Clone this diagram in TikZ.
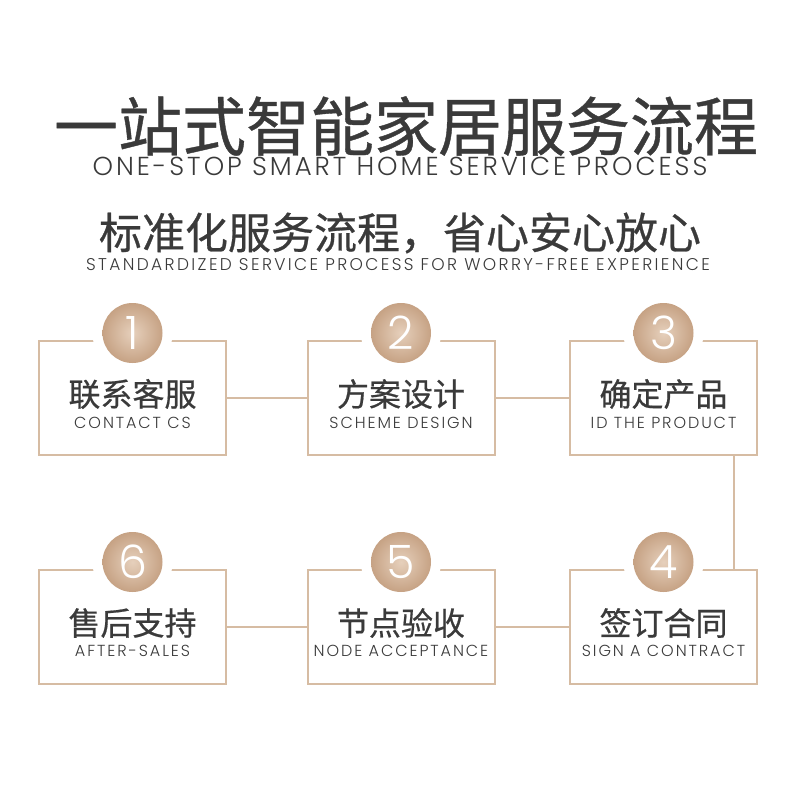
\documentclass[tikz,border=0pt]{standalone}
\usepackage{fontspec}
\usepackage{xcolor}
\usetikzlibrary{positioning}
\setmainfont{Poppins}
\newfontfamily\cjk[FakeBold=0.6]{Noto Sans CJK SC}
\newfontfamily\thin{Poppins Light}

\definecolor{goldline}{RGB}{214,188,163}
\definecolor{goldlight}{RGB}{230,208,188}
\definecolor{golddark}{RGB}{198,162,132}
\definecolor{ink}{RGB}{58,58,58}

\begin{document}
\begin{tikzpicture}[x=1pt,y=1pt,yscale=-1,
  stepbox/.style={draw=goldline,line width=2pt,minimum width=187pt,minimum height=114pt,inner sep=0pt},
  gap/.style={circle,fill=white,minimum size=80pt,inner sep=0pt},
  numball/.style={circle,inner color=goldlight,outer color=golddark,minimum size=60pt,inner sep=0pt,text=white,font=\thin\fontsize{46}{46}\selectfont},
  cn/.style={text=ink,inner sep=0pt,font=\cjk\fontsize{32}{32}\selectfont},
  en/.style={text=ink,inner sep=0pt,font=\thin\fontsize{16}{16}\selectfont\addfontfeature{LetterSpace=12}},
  link/.style={draw=goldline,line width=2pt}]

\useasboundingbox (0,0) rectangle (800,800);

% Text Node
\node (title) at (406,126) [text=ink,inner sep=0pt,font=\cjk\fontsize{64}{64}\selectfont] {一站式智能家居服务流程};
\node (titleen) at (400,166) [text=ink,inner sep=0pt,font=\thin\fontsize{26}{26}\selectfont\addfontfeature{LetterSpace=11.5}] {ONE-STOP SMART HOME SERVICE PROCESS};
\node (head) at (400,233) [text=ink,inner sep=0pt,font=\cjk\fontsize{43}{43}\selectfont] {标准化服务流程，省心安心放心};
\node (headen) at (398,265) [text=ink,inner sep=0pt,font=\thin\fontsize{17}{17}\selectfont\addfontfeature{LetterSpace=14}] {STANDARDIZED SERVICE PROCESS FOR WORRY-FREE EXPERIENCE};

% boxes
\node (b1) at (132.5,398) [stepbox] {};
\node (b2) at (401,398) [stepbox] {};
\node (b3) at (663.5,398) [stepbox] {};
\node (b6) at (132.5,627) [stepbox] {};
\node (b5) at (401,627) [stepbox] {};
\node (b4) at (663.5,627) [stepbox] {};

\draw [link] (b1) -- (b2);
\draw [link] (b2) -- (b3);
\draw [link] ([xshift=70pt]b3.south) -- ([xshift=70pt]b4.north);
\draw [link] (b4) -- (b5);
\draw [link] (b5) -- (b6);

% number circles
\node (g1) at (132.5,333) [gap] {};
\node (g2) at (401,333) [gap] {};
\node (g3) at (663.5,333) [gap] {};
\node (g6) at (132.5,562) [gap] {};
\node (g5) at (401,562) [gap] {};
\node (g4) at (663.5,562) [gap] {};

\node (n1) at (g1) [numball] {1};
\node (n2) at (g2) [numball] {2};
\node (n3) at (g3) [numball] {3};
\node (n6) at (g6) [numball] {6};
\node (n5) at (g5) [numball] {5};
\node (n4) at (g4) [numball] {4};

% step labels
\node (c1) at (132.5,394) [cn] {联系客服};
\node (e1) at (132.5,423) [en] {CONTACT CS};
\node (c2) at (401,394) [cn] {方案设计};
\node (e2) at (401,423) [en] {SCHEME DESIGN};
\node (c3) at (663.5,394) [cn] {确定产品};
\node (e3) at (663.5,423) [en] {ID THE PRODUCT};
\node (c4) at (663.5,623) [cn] {签订合同};
\node (e4) at (663.5,651) [en] {SIGN A CONTRACT};
\node (c5) at (401,623) [cn] {节点验收};
\node (e5) at (401,651) [en] {NODE ACCEPTANCE};
\node (c6) at (132.5,623) [cn] {售后支持};
\node (e6) at (132.5,651) [en] {AFTER-SALES};

\end{tikzpicture}
\end{document}
